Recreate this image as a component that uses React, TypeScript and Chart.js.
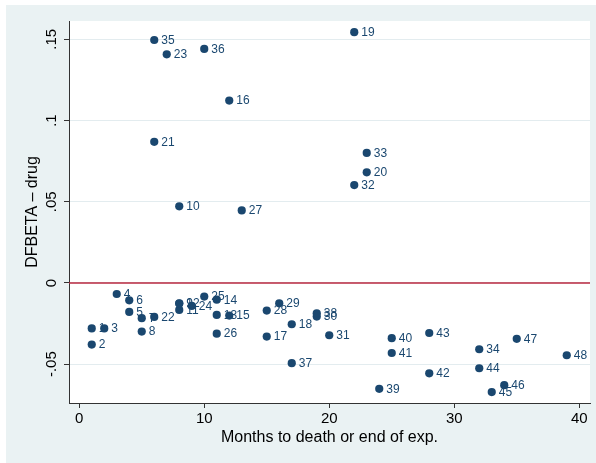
import React, { useEffect, useRef } from "react";
import { Chart, registerables } from "chart.js";

Chart.register(...registerables);

// Observation ids (labels), months (x) and DFBETA for drug (y)
const obsIds: string[] = [
  "1", "2", "3", "4", "5", "6", "7", "8", "9", "10", "11", "12",
  "13", "14", "15", "16", "17", "18", "19", "20", "21", "22", "23", "24",
  "25", "26", "27", "28", "29", "30", "31", "32", "33", "34", "35", "36",
  "37", "38", "39", "40", "41", "42", "43", "44", "45", "46", "47", "48",
];
const months: number[] = [
  1, 1, 2, 3, 4, 4, 5, 5, 8, 8, 8, 8,
  11, 11, 12, 12, 15, 17, 22, 23, 6, 6, 7, 9,
  10, 11, 13, 15, 16, 19, 20, 22, 23, 32, 6, 10,
  17, 19, 24, 25, 25, 28, 28, 32, 33, 34, 35, 39,
];
const dfbeta: number[] = [
  -0.028, -0.0379, -0.028, -0.0068, -0.0178, -0.0107, -0.0217, -0.0299, -0.0125, 0.0472, -0.0166, -0.0127,
  -0.0197, -0.0103, -0.0201, 0.1123, -0.033, -0.0254, 0.1544, 0.0681, 0.0869, -0.0209, 0.1408, -0.0141,
  -0.0084, -0.0312, 0.0447, -0.017, -0.0125, -0.0207, -0.0322, 0.0603, 0.0801, -0.0408, 0.1496, 0.1441,
  -0.0494, -0.0187, -0.0652, -0.034, -0.0431, -0.0556, -0.0308, -0.0525, -0.0672, -0.0629, -0.0344, -0.0445,
];

const xTicks: number[] = [0, 10, 20, 30, 40];
const yTicks: number[] = [-0.05, 0, 0.05, 0.1, 0.15];
const yTickLabels: string[] = ["-.05", "0", ".05", ".1", ".15"];
const xTitle = "Months to death or end of exp.";
const yTitle = "DFBETA \u2013 drug";
const refLineY = 0;

const FONT = '"Liberation Sans", Arial, Helvetica, sans-serif';
const NAVY = "#1A476F";
const BG = "#EAF2F3";

export default function App() {
  const canvasRef = useRef<HTMLCanvasElement | null>(null);

  useEffect(() => {
    const canvas = canvasRef.current;
    if (!canvas) return;

    const decorPlugin = {
      id: "decor",
      beforeDraw(chart: any) {
        const { ctx, chartArea } = chart;
        ctx.save();
        ctx.fillStyle = "#ffffff";
        ctx.fillRect(0, 0, chart.width, chart.height);
        ctx.fillStyle = BG;
        ctx.fillRect(6, 5, chart.width - 6, chart.height - 5);
        ctx.fillStyle = "#ffffff";
        ctx.fillRect(chartArea.left, chartArea.top, chartArea.right - chartArea.left, chartArea.bottom - chartArea.top);
        ctx.restore();
      },
      beforeDatasetsDraw(chart: any) {
        const { ctx, chartArea } = chart;
        const ys = chart.scales.y;
        // reference line
        const py = ys.getPixelForValue(refLineY);
        ctx.save();
        ctx.strokeStyle = "#B8283F";
        ctx.lineWidth = 1.4;
        ctx.beginPath();
        ctx.moveTo(chartArea.left, py);
        ctx.lineTo(chartArea.right, py);
        ctx.stroke();
        // point labels (drawn under markers)
        const meta = chart.getDatasetMeta(0);
        ctx.fillStyle = NAVY;
        ctx.font = `12px ${FONT}`;
        ctx.textAlign = "left";
        ctx.textBaseline = "middle";
        meta.data.forEach((el: any, i: number) => {
          ctx.fillText(obsIds[i], el.x + 7, el.y + 0.5);
        });
        ctx.restore();
      },
      afterDraw(chart: any) {
        const { ctx, chartArea } = chart;
        const ys = chart.scales.y;
        ctx.save();
        ctx.fillStyle = "#000000";
        // y tick labels, rotated
        ctx.font = `15px ${FONT}`;
        ctx.textAlign = "center";
        ctx.textBaseline = "alphabetic";
        yTicks.forEach((v, i) => {
          const py = ys.getPixelForValue(v);
          ctx.save();
          ctx.translate(55.5, py);
          ctx.rotate(-Math.PI / 2);
          ctx.fillText(yTickLabels[i], 0, 0);
          ctx.restore();
        });
        // axis titles
        ctx.font = `16px ${FONT}`;
        ctx.save();
        ctx.translate(36.5, (chartArea.top + chartArea.bottom) / 2);
        ctx.rotate(-Math.PI / 2);
        ctx.fillText(yTitle, 0, 0);
        ctx.restore();
        ctx.fillText(xTitle, (chartArea.left + chartArea.right) / 2, 441.5);
        ctx.restore();
      },
    };

    const chart = new Chart(canvas, {
      type: "scatter",
      data: {
        datasets: [
          {
            data: months.map((m, i) => ({ x: m, y: dfbeta[i] })),
            backgroundColor: NAVY,
            borderWidth: 0,
            pointRadius: 4.1,
            pointHoverRadius: 4.1,
          },
        ],
      },
      options: {
        animation: false,
        responsive: false,
        events: [],
        layout: { padding: { left: 0, top: 21, right: 6, bottom: 0 } },
        plugins: {
          legend: { display: false },
          tooltip: { enabled: false },
          title: { display: false },
        },
        scales: {
          x: {
            type: "linear",
            min: -0.82,
            max: 40.86,
            afterBuildTicks: (s: any) => {
              s.ticks = xTicks.map((v) => ({ value: v }));
            },
            afterFit: (s: any) => {
              s.height = 60;
            },
            grid: {
              drawOnChartArea: false,
              drawTicks: true,
              tickLength: 5,
              tickColor: "#333333",
            },
            border: { display: true, color: "#333333", width: 1 },
            ticks: {
              color: "#000000",
              font: { size: 15, family: FONT },
              padding: 2,
              maxRotation: 0,
              minRotation: 0,
            },
          },
          y: {
            type: "linear",
            min: -0.0739,
            max: 0.1613,
            afterBuildTicks: (s: any) => {
              s.ticks = yTicks.map((v) => ({ value: v }));
            },
            afterFit: (s: any) => {
              s.width = 69;
            },
            grid: {
              drawOnChartArea: true,
              color: "#E3ECEF",
              lineWidth: 1,
              drawTicks: true,
              tickLength: 5,
              tickColor: "#333333",
            },
            border: { display: true, color: "#333333", width: 1 },
            ticks: { display: false },
          },
        },
      },
      plugins: [decorPlugin],
    });

    return () => {
      chart.destroy();
    };
  }, []);

  return (
    <div style={{ position: "absolute", left: 0, top: 0, width: 596, height: 463, background: "#fff" }}>
      <canvas ref={canvasRef} width={596} height={463} style={{ display: "block", width: 596, height: 463 }} />
    </div>
  );
}
